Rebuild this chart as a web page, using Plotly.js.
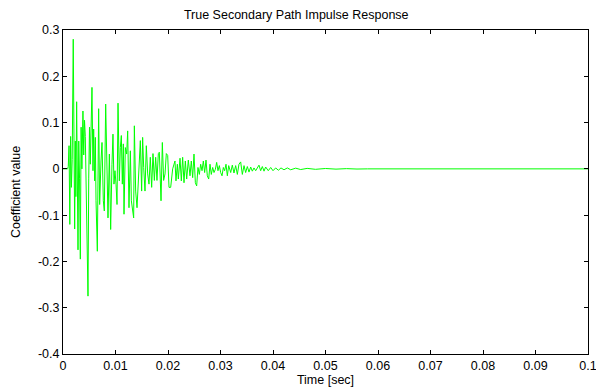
<!DOCTYPE html>
<html>
<head>
<meta charset="utf-8">
<script src="https://cdn.plot.ly/plotly-3.0.1.min.js"></script>
<style>html,body{margin:0;padding:0;background:#fff;}#chart{width:596px;height:392px;}</style>
</head>
<body>
<div id="chart"></div>
<script>
// time in milliseconds, converted to seconds for the axis
const timeMs = [
  0, 0.875, 1.0, 1.15, 1.3, 1.45, 1.6, 1.75, 1.95, 2.1, 2.22, 2.35, 2.45, 2.6, 2.75, 2.86, 3.0, 3.15, 3.3, 3.45,
  3.6, 3.8, 3.95, 4.1, 4.25, 4.4, 4.55, 4.76, 4.9, 5.05, 5.2, 5.52,
  5.71, 5.84, 6.03, 6.16, 6.29, 6.54, 6.79, 6.98, 7.24, 7.43, 7.68, 7.87, 8.13, 8.38, 8.57, 8.83, 9.08, 9.33,
  9.52, 9.71, 9.9, 10.1, 10.29, 10.48, 10.6, 10.73, 10.92, 11.11, 11.3, 11.49, 11.62, 11.87, 12.13, 12.32,
  12.57, 12.83, 13.02, 13.46, 13.59, 13.84, 14.1, 14.41, 14.73, 14.98, 15.17, 15.37, 15.62, 15.87, 16.13, 16.38,
  16.63, 16.89, 17.14, 17.4, 17.65, 17.9, 18.16, 18.35, 18.67, 18.92, 19.17, 19.43, 19.68, 19.94, 20.19,
  20.51, 20.89, 21.33, 21.52, 21.78, 21.97, 22.29, 22.54, 22.79, 23.05, 23.3, 23.56, 23.87, 24.19, 24.44, 24.7,
  24.95, 25.21, 25.46, 25.71, 25.97, 26.22, 26.48, 26.73, 26.98, 27.24, 27.49, 27.75, 28.0, 28.25, 28.51, 28.76,
  29.02, 29.27, 29.52, 29.78, 30.03, 30.29, 30.54, 30.79, 31.05, 31.3, 31.56,
  31.94, 32.25, 32.57, 32.89, 33.21, 33.52, 33.84, 34.16, 34.48, 34.79, 35.11, 35.43, 35.75, 36.06, 36.38, 36.7,
  37.33, 37.65, 37.97, 38.29, 38.6, 39.1, 39.56, 40.0, 40.51, 41.02, 41.52, 42.1, 42.73, 43.37, 44.32, 45.27,
  46.5, 48.1, 50.0, 52.0, 54.0, 56.0, 58.0, 100.0
];
const coefficient = [
  0, 0, 0.005, 0.05, -0.12, 0.07, -0.04, 0.02, 0.28, -0.09, -0.13, 0.06, -0.06, 0.145, -0.05, -0.175, 0.06, -0.02, -0.195, 0.09,
  0.0, 0.125, 0.03, 0.105, 0.07, -0.04, -0.06, -0.275, -0.02, 0.09, 0.01, 0.176,
  -0.004, 0.086, -0.026, 0.068, -0.069, -0.178, 0.13, -0.077, 0.017, 0.057, -0.069, -0.091, 0.14, -0.004, -0.106, 0.032, -0.131, 0.01,
  0.075, -0.033, -0.004, -0.033, -0.077, 0.142, -0.004, -0.026, 0.046, 0.072, -0.033, 0.054, -0.098, 0.046, 0.032, 0.082,
  -0.084, 0.039, -0.069, -0.106, 0.093, -0.048, -0.084, 0.0, 0.061, -0.048, 0.068, 0.003, -0.048, 0.05, -0.011, -0.033,
  0.025, -0.04, 0.033, -0.025, 0.025, -0.025, 0.033, 0.036, -0.069, 0.057, -0.025, -0.011, 0.033, 0.029, -0.04,
  -0.04, 0.0, 0.017, -0.026, 0.01, -0.022, 0.023, -0.026, 0.025, -0.03, 0.017, -0.022, 0.019, -0.015, 0.017, -0.019,
  0.032, -0.03, -0.037, 0.003, -0.012, 0.01, -0.004, 0.017, -0.008, 0.019, -0.015, -0.022, 0.01, -0.012, 0.003, -0.008,
  -0.001, 0.014, -0.004, 0.007, -0.008, -0.015, 0.003, -0.004, 0.01, -0.015, 0.007,
  -0.008, 0.008, -0.009, 0.007, -0.012, 0.01, 0.015, -0.012, 0.007, -0.008, 0.005, -0.007, 0.004, -0.005, 0.002, -0.004,
  0.008, -0.004, 0.005, -0.005, 0.004, -0.004, 0.003, -0.004, 0.002, -0.003, 0.002, -0.002, 0.002, -0.002, 0.0015, -0.0015,
  0.001, -0.001, 0.0008, -0.0006, 0.0005, -0.0004, 0, 0
];
const xTickVals = [0, 0.01, 0.02, 0.03, 0.04, 0.05, 0.06, 0.07, 0.08, 0.09, 0.1];
const xTickText = ["0", "0.01", "0.02", "0.03", "0.04", "0.05", "0.06", "0.07", "0.08", "0.09", "0.1"];
const yTickVals = [-0.4, -0.3, -0.2, -0.1, 0, 0.1, 0.2, 0.3];
const yTickText = ["-0.4", "-0.3", "-0.2", "-0.1", "0", "0.1", "0.2", "0.3"];

const timeSec = timeMs.map(t => t / 1000);

const font = {family: "Liberation Sans, Arial, sans-serif", size: 12.5, color: "#000"};

Plotly.newPlot("chart", [{
  x: timeSec, y: coefficient, type: "scatter", mode: "lines",
  line: {color: "#00ff00", width: 1}, hoverinfo: "skip"
}], {
  width: 596, height: 392,
  margin: {l: 63, r: 8, t: 30, b: 38},
  paper_bgcolor: "#fff", plot_bgcolor: "#fff",
  showlegend: false,
  font: font,
  title: {text: "True Secondary Path Impulse Response", font: font,
          x: 0.497, xanchor: "center", y: 0.963, yanchor: "middle", xref: "container", yref: "container"},
  xaxis: {
    range: [0, 0.1], tickvals: xTickVals, ticktext: xTickText,
    ticks: "inside", ticklen: 4, tickcolor: "#000", mirror: "ticks",
    showline: true, linecolor: "#000", linewidth: 1, showgrid: false, zeroline: false,
    ticklabeloverflow: "allow",
    tickfont: font,
    title: {text: "Time [sec]", font: font, standoff: 2}
  },
  yaxis: {
    range: [-0.4, 0.3], tickvals: yTickVals, ticktext: yTickText,
    ticks: "inside", ticklen: 4, tickcolor: "#000", mirror: "ticks",
    showline: true, linecolor: "#000", linewidth: 1, showgrid: false, zeroline: false,
    ticklabeloverflow: "allow",
    tickfont: font,
    title: {text: "Coefficient value", font: font, standoff: 14}
  }
}, {staticPlot: true, displayModeBar: false});
</script>
</body>
</html>
